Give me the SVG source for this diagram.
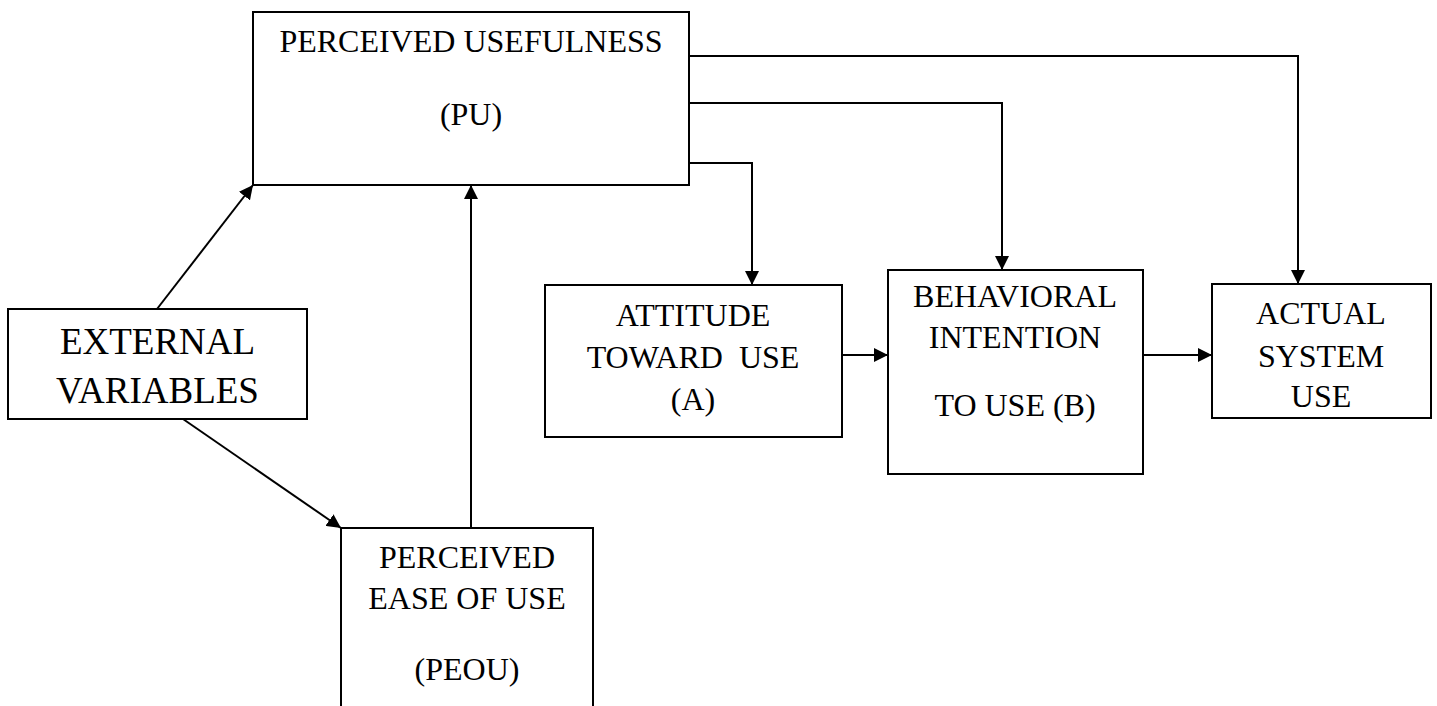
<svg xmlns="http://www.w3.org/2000/svg" width="1437" height="706" viewBox="0 0 1437 706">
<defs>
<style>
.box{fill:#fff;stroke:#000;stroke-width:2}
.t{font-family:"Liberation Serif","Times New Roman",serif;font-size:32px;fill:#000;text-anchor:middle}
.big{font-size:37px}
.c{fill:none;stroke:#000;stroke-width:2;marker-end:url(#ah)}
</style>
<marker id="ah" viewBox="0 0 14 14" refX="14" refY="7" markerWidth="14" markerHeight="14" markerUnits="userSpaceOnUse" orient="auto">
<path d="M0,0 L14,7 L0,14 Z" fill="#000"/>
</marker>
</defs>
<rect width="1437" height="706" fill="#fff"/>
<g id="connectors">
<path class="c" d="M157,309 L253,185"/>
<path class="c" d="M183,419 L341,528"/>
<path class="c" d="M471,528 L471,185"/>
<path class="c" d="M689,163 H752 V285"/>
<path class="c" d="M689,103 H1002 V270"/>
<path class="c" d="M689,56 H1298 V284"/>
<path class="c" d="M842,355 H888"/>
<path class="c" d="M1143,355 H1212"/>
</g>
<g id="pu">
<rect class="box" x="253" y="12" width="436" height="173"/>
<text class="t" x="471" y="52">PERCEIVED USEFULNESS</text>
<text class="t" x="471" y="125">(PU)</text>
</g>
<g id="ext">
<rect class="box" x="8" y="309" width="299" height="110"/>
<text class="t big" x="157.5" y="354">EXTERNAL</text>
<text class="t big" x="157.5" y="403">VARIABLES</text>
</g>
<g id="peou">
<rect class="box" x="341" y="528" width="252" height="200"/>
<text class="t" x="467" y="568">PERCEIVED</text>
<text class="t" x="467" y="609">EASE OF USE</text>
<text class="t" x="467" y="680">(PEOU)</text>
</g>
<g id="att">
<rect class="box" x="545" y="285" width="297" height="152"/>
<text class="t" x="693" y="326">ATTITUDE</text>
<text class="t" x="693" y="368" xml:space="preserve">TOWARD  USE</text>
<text class="t" x="693" y="410">(A)</text>
</g>
<g id="beh">
<rect class="box" x="888" y="270" width="255" height="204"/>
<text class="t" x="1015" y="307">BEHAVIORAL</text>
<text class="t" x="1015" y="348">INTENTION</text>
<text class="t" x="1015" y="416">TO USE (B)</text>
</g>
<g id="act">
<rect class="box" x="1212" y="284" width="219" height="134"/>
<text class="t" x="1321" y="324">ACTUAL</text>
<text class="t" x="1321" y="367">SYSTEM</text>
<text class="t" x="1321" y="407">USE</text>
</g>
</svg>
